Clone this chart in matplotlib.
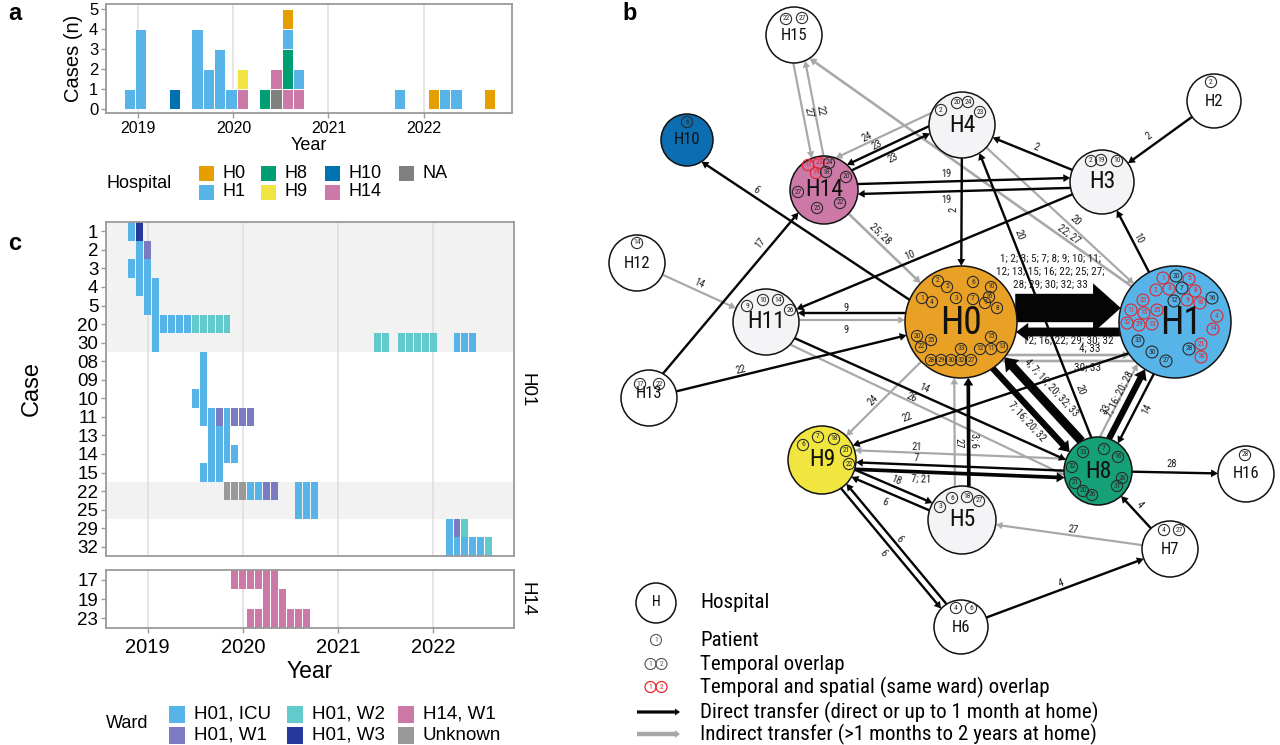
import numpy as np
import matplotlib
matplotlib.use("Agg")
import matplotlib.pyplot as plt
from matplotlib.patches import Rectangle, Circle, FancyArrow
from matplotlib import font_manager
from matplotlib.font_manager import FontProperties

plt.rcParams['font.family'] = ['Liberation Sans', 'DejaVu Sans']


def pick_narrow():
    cands = []
    for f in font_manager.fontManager.ttflist:
        nm = f.name.lower()
        st = str(f.stretch).lower()
        if f.style != 'normal' or f.weight not in (400, 'normal', 'regular'):
            continue
        if 'mono' in nm or 'serif' in nm and 'sans' not in nm:
            continue
        if 'narrow' in nm or 'condensed' in nm or st in ('condensed', 'semi-condensed'):
            score = 0 if 'liberation' in nm else (1 if 'roboto' in nm else 2)
            cands.append((score, f.fname))
    if cands:
        cands.sort()
        return cands[0][1]
    return None


_nf = pick_narrow()


def NFP(size):
    if _nf:
        return FontProperties(fname=_nf, size=size)
    return FontProperties(family=['Liberation Sans', 'DejaVu Sans'], size=size * 0.9)


# ======================= DATA =======================
# ---- panel a: cases per ~6-week bin, by hospital
hospitals = ["H0", "H1", "H8", "H9", "H10", "H14", "NA"]
bin_dates = [2018.908, 2019.026, 2019.382, 2019.618, 2019.737, 2019.855, 2019.974,
             2020.092, 2020.329, 2020.447, 2020.566, 2020.684, 2021.750, 2022.105,
             2022.224, 2022.342, 2022.697]
cases_H0 = [0, 0, 0, 0, 0, 0, 0, 0, 0, 0, 1, 0, 0, 1, 0, 0, 1]
cases_H1 = [1, 4, 0, 4, 2, 3, 1, 0, 0, 0, 1, 1, 1, 0, 1, 1, 0]
cases_H8 = [0, 0, 0, 0, 0, 0, 0, 0, 1, 0, 2, 0, 0, 0, 0, 0, 0]
cases_H9 = [0, 0, 0, 0, 0, 0, 0, 1, 0, 0, 0, 0, 0, 0, 0, 0, 0]
cases_H10 = [0, 0, 1, 0, 0, 0, 0, 0, 0, 0, 0, 0, 0, 0, 0, 0, 0]
cases_H14 = [0, 0, 0, 0, 0, 0, 0, 1, 0, 1, 1, 1, 0, 0, 0, 0, 0]
cases_NA = [0, 0, 0, 0, 0, 0, 0, 0, 0, 1, 0, 0, 0, 0, 0, 0, 0]
bin_width_years = 0.1184
year_ticks = [2019, 2020, 2021, 2022]

# ---- panel c: ward stays per case (case, first month, number of months, ward)
cases_h01 = ["1", "2", "3", "4", "5", "20", "30", "08", "09", "10", "11", "13", "14", "15", "22", "25", "29", "32"]
cases_h14 = ["17", "19", "23"]
shaded_cases = ["1", "2", "3", "4", "5", "20", "30", "22", "25"]
wards = ["H01, ICU", "H01, W1", "H01, W2", "H01, W3", "H14, W1", "Unknown"]
stays = [
    ("1", "2018-11", 1, "H01, ICU"), ("1", "2018-12", 1, "H01, W3"),
    ("2", "2018-12", 1, "H01, ICU"), ("2", "2019-01", 1, "H01, W1"),
    ("3", "2018-11", 3, "H01, ICU"),
    ("4", "2018-12", 3, "H01, ICU"),
    ("5", "2019-01", 2, "H01, ICU"),
    ("20", "2019-02", 5, "H01, ICU"), ("20", "2019-07", 5, "H01, W2"),
    ("30", "2019-02", 1, "H01, ICU"), ("30", "2021-06", 2, "H01, W2"),
    ("30", "2021-09", 5, "H01, W2"), ("30", "2022-04", 3, "H01, ICU"),
    ("08", "2019-08", 1, "H01, ICU"),
    ("09", "2019-08", 1, "H01, ICU"),
    ("10", "2019-07", 2, "H01, ICU"),
    ("11", "2019-08", 2, "H01, ICU"), ("11", "2019-10", 1, "H01, W1"),
    ("11", "2019-11", 1, "H01, ICU"), ("11", "2019-12", 3, "H01, W1"),
    ("13", "2019-09", 3, "H01, ICU"),
    ("14", "2019-09", 4, "H01, ICU"),
    ("15", "2019-08", 3, "H01, ICU"),
    ("22", "2019-11", 3, "Unknown"), ("22", "2020-02", 2, "H01, ICU"),
    ("22", "2020-04", 2, "H01, W1"), ("22", "2020-08", 3, "H01, ICU"),
    ("25", "2020-08", 3, "H01, ICU"),
    ("29", "2022-03", 1, "H01, ICU"), ("29", "2022-04", 1, "H01, W1"), ("29", "2022-05", 1, "H01, W2"),
    ("32", "2022-03", 5, "H01, ICU"), ("32", "2022-08", 1, "H01, W2"),
    ("17", "2019-12", 6, "H14, W1"),
    ("19", "2020-04", 3, "H14, W1"),
    ("23", "2020-02", 8, "H14, W1"),
]

# ---- panel b: network
patients_at = {
    "H0": ["2", "5", "6", "10", "16", "1", "4", "3", "7", "9", "8", "20", "25", "22", "15", "12", "11", "13", "33", "28", "29", "30", "32", "27"],
    "H1": ["1", "20", "5", "2", "3", "7", "8", "12", "9", "10", "16",
           "22", "11", "15", "25", "32", "29", "13", "4", "14", "28", "21", "18", "33", "30", "27"],
    "H14": ["17", "23", "24", "19", "18", "20", "27", "25", "22"],
    "H4": ["2", "20", "24", "23"],
    "H3": ["2", "19", "10"],
    "H15": ["22", "27"],
    "H2": ["2"],
    "H10": ["6"],
    "H12": ["14"],
    "H11": ["9", "10", "14", "26"],
    "H13": ["17", "22"],
    "H9": ["6", "7", "18", "21", "22"],
    "H5": ["3", "6", "18", "27"],
    "H8": ["33", "7", "16", "32", "28", "31", "21", "20", "26"],
    "H16": ["28"],
    "H7": ["4", "27"],
    "H6": ["4", "6"],
}
spatial_overlap = {
    "H1": ["1", "2", "3", "5", "8", "9", "10", "11", "13", "15", "22", "25", "29", "32", "4", "14", "18", "21"],
    "H14": ["17", "23", "19"],
}
direct_transfers = [
    ("H2", "H3", "2"), ("H3", "H4", "2"), ("H4", "H0", "2"),
    ("H14", "H3", "19"), ("H3", "H14", "19"),
    ("H4", "H14", "23"), ("H14", "H4", "23"),
    ("H0", "H10", "6"), ("H13", "H14", "17"),
    ("H3", "H11", "10"), ("H1", "H3", "10"),
    ("H0", "H11", "9"), ("H13", "H0", "22"),
    ("H0", "H1", "1; 2; 3; 5; 7; 8; 9; 10; 11; 12; 13; 15; 16; 22; 25; 27; 28; 29; 30; 32; 33"),
    ("H1", "H0", "12; 16; 22; 29; 30; 32"),
    ("H8", "H0", "4; 7; 16; 20; 32; 33"),
    ("H0", "H8", "7; 16; 20; 32"),
    ("H8", "H4", "20"),
    ("H8", "H1", "7; 16; 20; 28"), ("H1", "H8", "14"),
    ("H11", "H8", "14"), ("H1", "H9", "22"),
    ("H5", "H0", "3; 6"),
    ("H8", "H9", "7"), ("H9", "H8", "7; 21"),
    ("H9", "H5", "18"), ("H5", "H9", "6"),
    ("H9", "H6", "6"), ("H6", "H9", "6"),
    ("H6", "H7", "4"), ("H7", "H8", "4"), ("H8", "H16", "28"),
]
indirect_transfers = [
    ("H4", "H14", "24"), ("H15", "H14", "27"), ("H14", "H15", "22"),
    ("H1", "H15", "22; 27"), ("H4", "H1", "20"), ("H14", "H0", "25; 28"),
    ("H12", "H11", "14"), ("H11", "H0", "9"),
    ("H0", "H1", "4; 33"), ("H1", "H0", "30; 33"),
    ("H8", "H1", "33"), ("H11", "H8", "26"), ("H0", "H9", "24"),
    ("H5", "H0", "27"), ("H8", "H9", "21"), ("H7", "H5", "27"),
]

# ======================= STYLE / LAYOUT =======================
HOSP_COL = {"H0": "#E69F00", "H1": "#56B4E9", "H8": "#009E73", "H9": "#F0E442",
            "H10": "#0072B2", "H14": "#CC79A7", "NA": "#808080"}
WARD_COL = {"H01, ICU": "#56B4E9", "H01, W1": "#7B7BC2", "H01, W2": "#62CACA",
            "H01, W3": "#26369A", "H14, W1": "#CC79A7", "Unknown": "#999999"}
FRAME = "#9A9A9A"
GRID = "#DEDEDE"

W, H = 1280, 745
fig = plt.figure(figsize=(W / 100, H / 100), dpi=100)


def fax(l, t, r, b):
    return fig.add_axes([l / W, 1 - b / H, (r - l) / W, (b - t) / H])


def frame(ax):
    for s in ax.spines.values():
        s.set_color(FRAME)
        s.set_linewidth(1.3)
    ax.tick_params(color=FRAME, length=3.5, width=1)


# ---------------- panel a ----------------
axa = fax(106, 4, 512, 113)
stack_order = [("NA", cases_NA), ("H14", cases_H14), ("H10", cases_H10), ("H9", cases_H9),
               ("H8", cases_H8), ("H1", cases_H1), ("H0", cases_H0)]
bottom = np.zeros(len(bin_dates))
for name, vals in stack_order:
    v = np.array(vals, float)
    axa.bar(bin_dates, v, bottom=bottom, width=bin_width_years, color=HOSP_COL[name],
            edgecolor="white", linewidth=0.7, zorder=2)
    bottom += v
for yv in year_ticks:
    axa.axvline(yv, color=GRID, lw=1.1, zorder=0)
axa.set_xlim(2018.66, 2022.93)
axa.set_ylim(-0.22, 5.25)
axa.set_xticks(year_ticks)
axa.set_xticklabels([str(y) for y in year_ticks], fontsize=11.5)
axa.set_yticks(range(6))
axa.set_yticklabels([str(i) for i in range(6)], fontsize=12)
axa.set_xlabel("Year", fontsize=13, labelpad=1)
axa.set_ylabel("Cases (n)", fontsize=14.5, labelpad=4)
axa.tick_params(axis='both', pad=2)
frame(axa)


# ---------------- panel c ----------------
def month_x(s):
    y, m = s.split("-")
    return int(y) + (int(m) - 1) / 12.0


def tile_panel(ax, case_list):
    idx = {c: i for i, c in enumerate(case_list)}
    for c in case_list:
        if c in shaded_cases:
            ax.axhspan(idx[c] - 0.5, idx[c] + 0.5, color="#F2F2F2", lw=0, zorder=0)
    for yv in year_ticks:
        ax.axvline(yv, color=GRID, lw=1.1, zorder=0.5)
    for case, start, n, ward in stays:
        if case not in idx:
            continue
        x0 = month_x(start)
        xs = [x0 + k / 12.0 for k in range(n)]
        ax.bar(xs, [1.0] * n, bottom=idx[case] - 0.5, width=1 / 12.0 * 0.88,
               color=WARD_COL[ward], linewidth=0, zorder=2)
    ax.set_ylim(len(case_list) - 0.5, -0.5)
    ax.set_yticks(range(len(case_list)))
    ax.set_yticklabels(case_list, fontsize=13.5)
    ax.set_xlim(2018.562, 2022.849)
    ax.set_xticks(year_ticks)
    ax.tick_params(axis='y', pad=2)
    frame(ax)


axc1 = fax(106, 222, 514, 556)
tile_panel(axc1, cases_h01)
axc1.tick_params(axis='x', length=0, labelbottom=False)
axc1.set_ylabel("Case", fontsize=17)
axc2 = fax(106, 570, 514, 628)
tile_panel(axc2, cases_h14)
axc2.set_xticklabels([str(y) for y in year_ticks], fontsize=14.5)
axc2.set_xlabel("Year", fontsize=16.5, labelpad=2)
axc1.yaxis.set_label_coords(-0.155, 0.5)

# ---------------- overlay (pixel coordinates) ----------------
ov = fig.add_axes([0, 0, 1, 1], zorder=10)
ov.set_xlim(0, W)
ov.set_ylim(H, 0)
ov.axis("off")
ov.patch.set_alpha(0)

ov.text(8, 14, "a", fontsize=17, fontweight="bold", ha="left", va="center")
ov.text(8, 243, "c", fontsize=17, fontweight="bold", ha="left", va="center")
ov.text(622, 13, "b", fontsize=17, fontweight="bold", ha="left", va="center")

ov.text(527, 390, "H01", rotation=-90, fontsize=13.5, ha="center", va="center")
ov.text(527, 599, "H14", rotation=-90, fontsize=13.5, ha="center", va="center")

# legend a
ov.text(106, 183, "Hospital", fontsize=13, ha="left", va="center")
leg_a_cols = [199, 261, 325, 399]
for i, hname in enumerate(hospitals):
    col, row = divmod(i, 2)
    x0 = leg_a_cols[col]
    yc = [173.5, 192][row]
    ov.add_patch(Rectangle((x0, yc - 7.5), 15, 15, color=HOSP_COL[hname], lw=0))
    ov.text(x0 + 24, yc, hname, fontsize=13, ha="left", va="center")

# legend c
ov.text(106, 724, "Ward", fontsize=13, ha="left", va="center")
leg_c_cols = [169, 287, 398]
for i, wname in enumerate(wards):
    col, row = divmod(i, 2)
    x0 = leg_c_cols[col]
    yc = [714, 735.5][row]
    ov.add_patch(Rectangle((x0, yc - 8.5), 16, 17, color=WARD_COL[wname], lw=0))
    ov.text(x0 + 25, yc, wname, fontsize=13.5, ha="left", va="center")

# ---------------- panel b network ----------------
NODE = {  # centre x, centre y, radius (pixels)
    "H0": (961, 322, 56), "H1": (1175, 322, 56), "H2": (1214, 101, 27),
    "H3": (1102, 182, 32), "H4": (962, 125, 33), "H5": (962, 520, 34),
    "H6": (961, 627, 27), "H7": (1170, 549, 28), "H8": (1098, 471, 34),
    "H9": (822, 460, 34), "H10": (687, 140, 26), "H11": (766, 322, 33),
    "H12": (637, 263, 28), "H13": (649, 398, 28), "H14": (824, 190, 34),
    "H15": (794, 35, 28), "H16": (1246, 474, 28),
}
NODE_FILL = {"H0": "#E9A125", "H1": "#56B4E9", "H8": "#16A077", "H9": "#F1E640",
             "H10": "#0A6EB1", "H14": "#CC79A7", "H3": "#F4F4F6", "H4": "#F4F4F6",
             "H5": "#F4F4F6", "H11": "#F4F4F6"}
BIG = {"H0": 27, "H1": 27}
MID = {"H3": 17, "H4": 17, "H5": 17, "H8": 17, "H9": 17, "H11": 17, "H14": 17}
PAT_OFF = {
    "H0": [(-23, -41), (-14, -35), (12, -40), (30, -35), (28, -25), (-39, -24), (-29, -20), (-5, -24),
           (12, -23), (24, -19), (36, -14), (-44, 14), (-30, 18), (-40, 25), (30, 15), (19, 27),
           (30, 27), (41, 25), (0, 27), (-30, 38), (-20, 38), (-10, 38), (0, 38), (10, 38)],
    "H1": [(-12, -44), (1, -46), (14, -43), (-19, -32), (-6, -33), (7, -34), (20, -31),
           (-1, -21), (12, -22), (25, -19), (37, -24),
           (-32, -22), (-44, -12), (-31, -9), (-18, -12), (-48, 1), (-36, 3), (-23, 2),
           (42, -6), (38, 7), (14, 27), (26, 22), (26, 35), (-37, 19), (-23, 30), (-9, 39)],
    "H14": [(-16, -25), (-5, -27), (5, -27), (-8, -17), (2, -18), (22, -13), (-26, 2), (-7, 18), (16, 13)],
    "H4": [(-21, -15), (-5, -22), (6, -23), (18, -13)],
    "H3": [(-11, -21), (-1, -22), (15, -21)],
    "H15": [(-8, -16), (8, -17)],
    "H2": [(-3, -19)],
    "H10": [(0, -18)],
    "H12": [(0, -20)],
    "H11": [(-19, -16), (-3, -22), (12, -22), (24, -12)],
    "H13": [(-9, -14), (10, -14)],
    "H9": [(-19, -15), (-4, -23), (12, -21), (24, -9), (27, 4)],
    "H5": [(-22, -13), (-10, -22), (5, -23), (17, -19)],
    "H8": [(-15, -19), (6, -22), (20, -14), (-26, -4), (24, 7), (19, 15), (-23, 12), (-15, 20), (-6, 24)],
    "H16": [(-1, -19)],
    "H7": [(-6, -19), (9, -19)],
    "H6": [(-5, -19), (10, -19)],
}
LABEL_DY = {"H13": -4}
LABEL_DX = {"H1": 6}
EDGE_LAYOUT = {
    ("H2", "H3", "2"): dict(t=.53, side=10),
    ("H3", "H4", "2"): dict(t=.49, side=7),
    ("H4", "H0", "2"): dict(t=.43, side=8),
    ("H14", "H3", "19"): dict(off=-5, t=.44, side=-13),
    ("H3", "H14", "19"): dict(off=-5, t=.56, side=-13),
    ("H4", "H14", "23"): dict(off=13, t=.56, side=18),
    ("H14", "H4", "23"): dict(off=-6, t=.5, side=1),
    ("H0", "H10", "6"): dict(off=-10, t=.74, side=-3),
    ("H13", "H14", "17"): dict(off=-5, t=.7, side=-15),
    ("H3", "H11", "10"): dict(t=.565, side=6),
    ("H1", "H3", "10"): dict(t=.58, side=6),
    ("H0", "H11", "9"): dict(off=9, t=.59, side=14),
    ("H13", "H0", "22"): dict(t=.3, side=-6),
    ("H0", "H1", "1; 2; 3; 5; 7; 8; 9; 10; 11; 12; 13; 15; 16; 22; 25; 27; 28; 29; 30; 32; 33"):
        dict(off=-14, t=.416, side=-50, flat=True, lines=(9, 7, 5)),
    ("H1", "H0", "12; 16; 22; 29; 30; 32"): dict(off=-10, t=.5, side=-19, flat=True),
    ("H8", "H0", "4; 7; 16; 20; 32; 33"): dict(off=8, t=.46, side=22),
    ("H0", "H8", "7; 16; 20; 32"): dict(off=8, t=.58, side=19),
    ("H8", "H4", "20"): dict(off=6, t=(.22, .67), side=13),
    ("H8", "H1", "7; 16; 20; 28"): dict(off=-5, t=.47, side=-16),
    ("H1", "H8", "14"): dict(off=-5, t=.54, side=-15),
    ("H11", "H8", "14"): dict(off=3, t=.47, side=-4),
    ("H1", "H9", "22"): dict(off=-15, off_b=4, t=.75, side=9),
    ("H5", "H0", "3; 6"): dict(off=7, t=.4, side=13),
    ("H8", "H9", "7"): dict(off=-1, t=.66, side=6),
    ("H9", "H8", "7; 21"): dict(off=8, t=.36, side=15),
    ("H9", "H5", "18"): dict(off=-4, t=.5, side=-11),
    ("H5", "H9", "6"): dict(off=-4, t=.51, side=-14),
    ("H9", "H6", "6"): dict(off=3.5, t=.51, side=12),
    ("H6", "H9", "6"): dict(off=3.5, t=.49, side=9),
    ("H6", "H7", "4"): dict(t=.49, side=-6),
    ("H7", "H8", "4"): dict(t=.5, side=7),
    ("H8", "H16", "28"): dict(t=.5, side=-8),
    ("H4", "H14", "24"): dict(off=24, t=.6, side=30),
    ("H15", "H14", "27"): dict(off=6, t=.5, side=1),
    ("H14", "H15", "22"): dict(off=6, t=.5, side=12),
    ("H1", "H15", "22; 27"): dict(off=4, off_b=-10, t=.29, side=6),
    ("H4", "H1", "20"): dict(t=.51, side=-7),
    ("H14", "H0", "25; 28"): dict(t=.37, side=-7),
    ("H12", "H11", "14"): dict(t=.46, side=-7),
    ("H11", "H0", "9"): dict(off=-2, t=.41, side=8),
    ("H0", "H1", "4; 33"): dict(off=33, t=.6, side=27, flat=True),
    ("H1", "H0", "30; 33"): dict(off=-39, t=.41, side=-46, flat=True),
    ("H8", "H1", "33"): dict(off=-14, t=.35, side=-21),
    ("H11", "H8", "26"): dict(off=10, off_b=18, t=.45, side=9),
    ("H0", "H9", "24"): dict(t=.6, side=7),
    ("H5", "H0", "27"): dict(off=-7, t=.39, side=-3),
    ("H8", "H9", "21"): dict(off=11, t=.66, side=17),
    ("H7", "H5", "27"): dict(t=.47, side=6),
}


def circle_param(P, v, C, r, last):
    f = P - C
    a = v @ v
    b = 2 * f @ v
    c = f @ f - r * r
    disc = max(b * b - 4 * a * c, 0)
    s1 = (-b - np.sqrt(disc)) / (2 * a)
    s2 = (-b + np.sqrt(disc)) / (2 * a)
    return s2 if last else s1


def draw_edge(src, dst, label, kind):
    lay = EDGE_LAYOUT.get((src, dst, label), {})
    x1, y1, r1 = NODE[src]
    x2, y2, r2 = NODE[dst]
    c1 = np.array([x1, y1], float)
    c2 = np.array([x2, y2], float)
    d = c2 - c1
    L = np.hypot(*d)
    u = d / L
    n = np.array([-u[1], u[0]])
    a = lay.get("off", 0.0)
    b = lay.get("off_b", a)
    P = c1 + n * a
    Q = c2 + n * b
    v = Q - P
    s0 = circle_param(P, v, c1, r1, last=True)
    s1 = circle_param(P, v, c2, r2, last=False)
    A = P + s0 * v
    B = P + s1 * v
    npat = len(label.split(";"))
    if kind == "direct":
        w = 2.4 + 1.3 * (npat - 1)
        col = "#050505"
        z = 3
    else:
        w = 2.2 + 0.4 * (npat - 1)
        col = "#A8A8A8"
        z = 2
    hw = 1.6 * w + 4.0
    hl = 0.8 * w + 5.0
    ov.add_patch(FancyArrow(A[0], A[1], B[0] - A[0], B[1] - A[1], width=w, head_width=hw,
                            head_length=hl, length_includes_head=True, color=col, lw=0, zorder=z))
    ts = lay.get("t", 0.5)
    ts = ts if isinstance(ts, tuple) else (ts,)
    side = lay.get("side", 6)
    ang = np.degrees(np.arctan2(-d[1], d[0]))
    if ang > 90:
        ang -= 180
    elif ang <= -90:
        ang += 180
    text = label
    if "lines" in lay:
        items = [s.strip() for s in label.split(";")]
        out, k = [], 0
        for cnt in lay["lines"]:
            out.append("; ".join(items[k:k + cnt]) + (";" if k + cnt < len(items) else ""))
            k += cnt
        text = "\n".join(out)
    for t in ts:
        pos = c1 + d * t + n * side
        ov.text(pos[0], pos[1], text, fontproperties=NFP(8.0 if lay.get("flat") else 7.6),
                color="#1A1A1A", rotation=0 if lay.get("flat") else ang,
                rotation_mode="anchor", ha="center", va="center", zorder=7, linespacing=1.35)


for s_, d_, l_ in indirect_transfers:
    draw_edge(s_, d_, l_, "indirect")
for s_, d_, l_ in direct_transfers:
    draw_edge(s_, d_, l_, "direct")

for name, (x, y, r) in NODE.items():
    ov.add_patch(Circle((x, y), r, facecolor=NODE_FILL.get(name, "white"),
                        edgecolor="#111111", lw=1.1, zorder=4))
    fs = BIG.get(name, MID.get(name, 12))
    ov.text(x + LABEL_DX.get(name, 0), y + LABEL_DY.get(name, 0) + (2 if name in BIG else 0), name,
            fontproperties=NFP(fs), ha="center", va="center", zorder=6, color="#111111")
    red = set(spatial_overlap.get(name, []))
    for pnum, (dx, dy) in zip(patients_at[name], PAT_OFF[name]):
        isred = pnum in red
        pr = 6.0 if (name == "H1") else 5.6
        ov.add_patch(Circle((x + dx, y + dy), pr, fill=False,
                            edgecolor="#E3262E" if isred else "#2A2A2A", lw=0.8, zorder=5))
        ov.text(x + dx, y + dy, pnum, fontproperties=NFP(5.4),
                ha="center", va="center", color="#E3262E" if isred else "#2A2A2A", zorder=6)

# legend b
ov.add_patch(Circle((656, 603), 20, facecolor="white", edgecolor="#111111", lw=1.1))
ov.text(656, 602, "H", fontproperties=NFP(10), ha="center", va="center")
ov.add_patch(Circle((656, 640), 5.5, fill=False, edgecolor="#555555", lw=0.8))
ov.text(656, 640, "1", fontproperties=NFP(5.5), ha="center", va="center", color="#555555")
for k, xx in enumerate([650.5, 661.5]):
    ov.add_patch(Circle((xx, 664), 5.5, fill=False, edgecolor="#555555", lw=0.8))
    ov.text(xx, 664, str(k + 1), fontproperties=NFP(5.5), ha="center", va="center", color="#555555")
for k, xx in enumerate([650.5, 661.5]):
    ov.add_patch(Circle((xx, 687), 5.5, fill=False, edgecolor="#E3262E", lw=0.9))
    ov.text(xx, 687, str(k + 1), fontproperties=NFP(5.5), ha="center", va="center", color="#E3262E")
ov.add_patch(FancyArrow(637, 712, 43, 0, width=3.2, head_width=7, head_length=5,
                        length_includes_head=True, color="#050505", lw=0))
ov.add_patch(FancyArrow(637, 734, 43, 0, width=4.5, head_width=8, head_length=5,
                        length_includes_head=True, color="#A8A8A8", lw=0))
leg_b_texts = [(603, "Hospital"), (640, "Patient"), (664, "Temporal overlap"),
               (687, "Temporal and spatial (same ward) overlap"),
               (712, "Direct transfer (direct or up to 1 month at home)"),
               (734, "Indirect transfer (>1 months to 2 years at home)")]
objs = []
for yy, txt in leg_b_texts:
    objs.append(ov.text(700, yy, txt, fontproperties=NFP(13), ha="left", va="center"))
fig.canvas.draw()
rend = fig.canvas.get_renderer()
wpx = objs[4].get_window_extent(rend).width
scale = 397.0 / wpx
for o in objs:
    o.set_fontsize(o.get_fontsize() * scale)

fig.savefig("out.png", dpi=100, facecolor="white")
